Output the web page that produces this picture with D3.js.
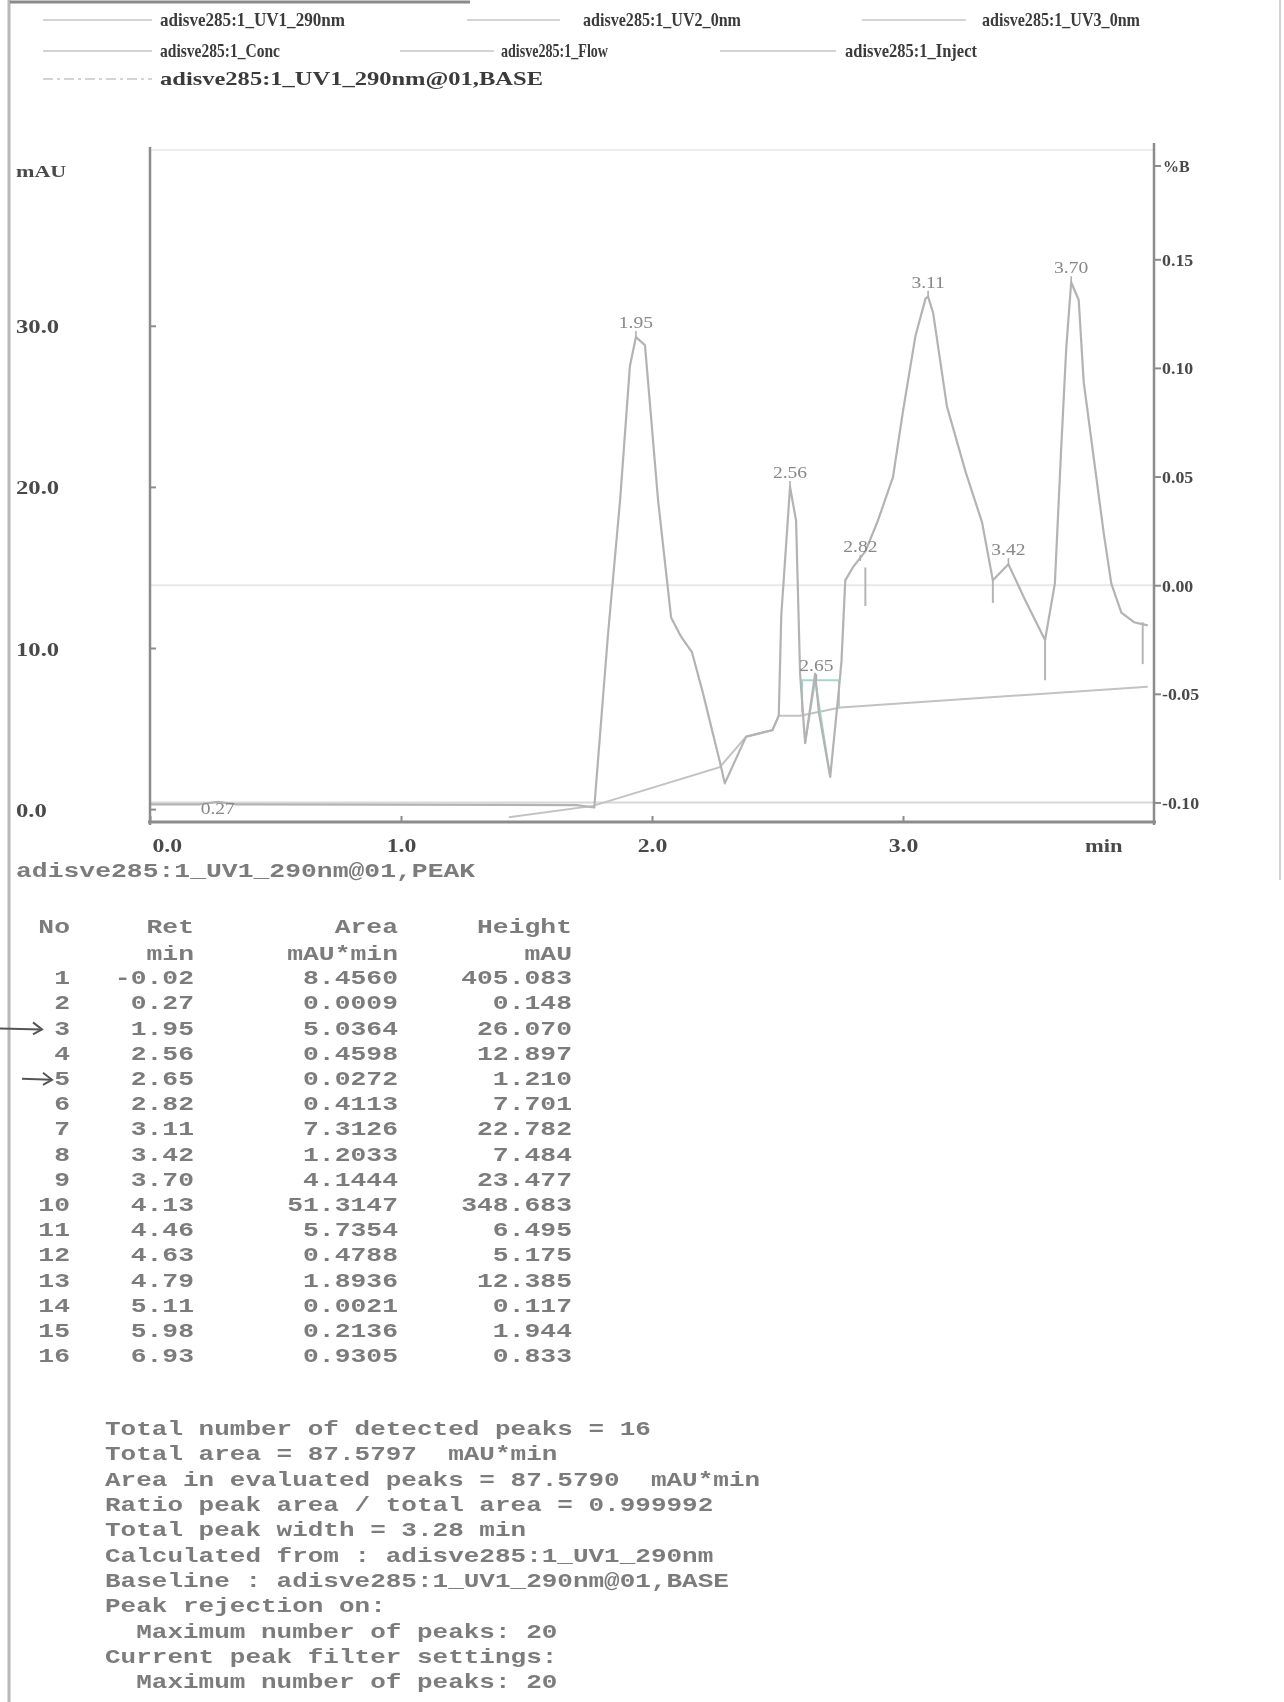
<!DOCTYPE html>
<html>
<head>
<meta charset="utf-8">
<script src="https://cdnjs.cloudflare.com/ajax/libs/d3/7.8.5/d3.min.js"></script>
<style>
    body { margin: 0; background: #fff; }
    svg { display: block; }
</style>
</head>
<body>
<div id="chart"></div>
<script>

// UV1 290nm trace (min, mAU)
var uvTime = [0.00, 0.20, 0.27, 0.34, 1.70, 1.77, 1.825, 1.873, 1.912, 1.936, 1.972, 2.024, 2.076, 2.116, 2.159, 2.203, 2.271, 2.29,
    2.375, 2.48, 2.505, 2.515, 2.55, 2.574, 2.59, 2.61, 2.65, 2.665, 2.71, 2.745, 2.755, 2.77, 2.80, 2.85, 2.90, 2.96, 3.00,
    3.05, 3.09, 3.10, 3.12, 3.175, 3.25, 3.315, 3.358, 3.42, 3.486, 3.54, 3.566, 3.605, 3.63, 3.65, 3.67, 3.70, 3.72, 3.765,
    3.80, 3.83, 3.87, 3.92, 3.975];
var uvSignal = [0.3, 0.3, 0.45, 0.3, 0.25, 0.1, 10.9, 19.2, 27.5, 29.3, 28.8, 19.2, 11.9, 10.7, 9.75, 7.2, 2.9, 1.6,
    4.5, 4.9, 5.8, 12.0, 20.0, 17.9, 8.4, 4.1, 8.4, 6.0, 2.0, 7.5, 9.2, 14.2, 15.0, 16.0, 17.9, 20.6, 24.7,
    29.4, 31.7, 31.8, 30.8, 25.0, 20.9, 17.8, 14.2, 15.2, 13.0, 11.3, 10.5, 14.0, 22.3, 28.5, 32.7, 31.6, 26.5, 21.2,
    17.1, 14.0, 12.2, 11.6, 11.4];

// UV1 290nm@01,BASE
var baseTime = [1.43, 1.765, 2.27, 2.375, 2.48, 2.505, 2.59, 2.75, 3.975];
var baseSignal = [-0.5, 0.2, 2.6, 4.5, 4.9, 5.8, 5.8, 6.3, 7.6];

// flat channels on the %B axis
var concTime = [0.0, 4.0];
var concValue = [0.00, 0.00];
var flowValue = [-0.10, -0.10];

// peak labels on the trace
var peakRt = ["0.27", "1.95", "2.56", "2.65", "2.82", "3.11", "3.42", "3.70"];
var peakTime = [0.27, 1.936, 2.55, 2.655, 2.83, 3.10, 3.42, 3.67];
var peakSignal = [0.45, 29.3, 20.0, 8.0, 15.4, 31.8, 15.2, 32.7];

// peak boundary drop marks
var dropTime = [2.85, 3.358, 3.566, 3.955];
var dropTop = [15.0, 14.2, 10.5, 11.6];
var dropBottom = [12.6, 12.8, 8.0, 9.0];

// axis ticks
var leftTicks = [0, 10, 20, 30];
var rightTicks = [-0.10, -0.05, 0.00, 0.05, 0.10, 0.15];
var timeTicks = [0, 1, 2, 3];

// legend
var legendRow1 = ["adisve285:1_UV1_290nm", "adisve285:1_UV2_0nm", "adisve285:1_UV3_0nm"];
var legendRow2 = ["adisve285:1_Conc", "adisve285:1_Flow", "adisve285:1_Inject"];
var legendRow3 = ["adisve285:1_UV1_290nm@01,BASE"];

// peak table
var tableTitle = "adisve285:1_UV1_290nm@01,PEAK";
var colHeads = ["No", "Ret", "Area", "Height"];
var colUnits = ["", "min", "mAU*min", "mAU"];
var peakNo = ["1", "2", "3", "4", "5", "6", "7", "8", "9", "10", "11", "12", "13", "14", "15", "16"];
var retTimes = ["-0.02", "0.27", "1.95", "2.56", "2.65", "2.82", "3.11", "3.42", "3.70", "4.13", "4.46", "4.63", "4.79", "5.11", "5.98", "6.93"];
var areas = ["8.4560", "0.0009", "5.0364", "0.4598", "0.0272", "0.4113", "7.3126", "1.2033", "4.1444", "51.3147", "5.7354", "0.4788", "1.8936", "0.0021", "0.2136", "0.9305"];
var heights = ["405.083", "0.148", "26.070", "12.897", "1.210", "7.701", "22.782", "7.484", "23.477", "348.683", "6.495", "5.175", "12.385", "0.117", "1.944", "0.833"];

var summaryLines = [
    "Total number of detected peaks = 16",
    "Total area = 87.5797  mAU*min",
    "Area in evaluated peaks = 87.5790  mAU*min",
    "Ratio peak area / total area = 0.999992",
    "Total peak width = 3.28 min",
    "Calculated from : adisve285:1_UV1_290nm",
    "Baseline : adisve285:1_UV1_290nm@01,BASE",
    "Peak rejection on:",
    "  Maximum number of peaks: 20",
    "Current peak filter settings:",
    "  Maximum number of peaks: 20"
];


var width = 1284;
var height = 1702;

var serif = "'Liberation Serif', 'DejaVu Serif', serif";
var mono = "'Liberation Mono', 'DejaVu Sans Mono', monospace";

var svg = d3.select("#chart")
    .append("svg")
    .attr("width", width)
    .attr("height", height);

svg.append("rect").attr("width", width).attr("height", height).attr("fill", "#fff");

// soft scan look
var defs = svg.append("defs");
defs.append("filter").attr("id", "soft")
    .append("feGaussianBlur").attr("stdDeviation", 0.55);

var g = svg.append("g").attr("filter", "url(#soft)");

// page edges of the scan
g.append("line").attr("x1", 9).attr("x2", 9).attr("y1", 0).attr("y2", height)
    .attr("stroke", "#b8b8b8").attr("stroke-width", 3);
g.append("line").attr("x1", 10).attr("x2", 470).attr("y1", 2).attr("y2", 2)
    .attr("stroke", "#8a8a8a").attr("stroke-width", 3);
g.append("line").attr("x1", 1280).attr("x2", 1280).attr("y1", 0).attr("y2", 880)
    .attr("stroke", "#d0d0d0").attr("stroke-width", 2);


// scales
var plotLeft = 150, plotRight = 1154, plotTop = 155, plotBottom = 822;

var x = d3.scaleLinear().domain([0, 4.0]).range([plotLeft, plotRight]);
var yL = d3.scaleLinear().domain([-0.8, 40.6]).range([plotBottom, plotTop]);
var yR = d3.scaleLinear().domain([-0.109, 0.198]).range([plotBottom, plotTop]);


// ---------- legend ----------
var legend = g.append("g").attr("class", "legend")
    .style("font-family", serif).style("font-size", "19px").style("font-weight", "bold").attr("fill", "#3a3a3a");

var legendCols = [
    { lx1: 43, lx2: 152, tx: 160 },
    { lx1: 467, lx2: 560, tx: 583 },
    { lx1: 862, lx2: 966, tx: 982 }
];
var legendCols2 = [
    { lx1: 43, lx2: 152, tx: 160 },
    { lx1: 400, lx2: 494, tx: 501 },
    { lx1: 720, lx2: 836, tx: 845 }
];
var legendWidths1 = [185, 158, 158];
var legendWidths2 = [120, 107, 132];
var legendWidths3 = [383];

function legendRow(labels, cols, widths, y, dash) {
    labels.forEach(function (lab, i) {
        legend.append("line")
            .attr("x1", cols[i].lx1).attr("x2", cols[i].lx2)
            .attr("y1", y).attr("y2", y)
            .attr("stroke", "#d4d4d4").attr("stroke-width", 2)
            .attr("stroke-dasharray", dash || null);
        legend.append("text")
            .attr("x", cols[i].tx).attr("y", y + 6)
            .attr("textLength", widths[i]).attr("lengthAdjust", "spacingAndGlyphs")
            .text(lab);
    });
}
legendRow(legendRow1, legendCols, legendWidths1, 20);
legendRow(legendRow2, legendCols2, legendWidths2, 51);
legendRow(legendRow3, legendCols, legendWidths3, 79, "10,4,3,4");


// ---------- plot frame ----------
g.append("line").attr("x1", plotLeft).attr("x2", plotRight).attr("y1", plotTop - 5).attr("y2", plotTop - 5)
    .attr("stroke", "#ececec").attr("stroke-width", 2);

// flat channels
var chanLine = d3.line().x(function (d) { return x(d[0]); }).y(function (d) { return yR(d[1]); });
g.append("path").datum(d3.zip(concTime, concValue))
    .attr("d", chanLine).attr("fill", "none").attr("stroke", "#e8e8e8").attr("stroke-width", 2);
g.append("path").datum(d3.zip(concTime, flowValue))
    .attr("d", chanLine).attr("fill", "none").attr("stroke", "#d8d8d8").attr("stroke-width", 2);

// baseline
var sigLine = d3.line().x(function (d) { return x(d[0]); }).y(function (d) { return yL(d[1]); });
g.append("path").datum(d3.zip(baseTime, baseSignal))
    .attr("d", sigLine).attr("fill", "none").attr("stroke", "#c2c2c2").attr("stroke-width", 2);

// teal marks of the small 2.65 peak
var tealA = [[2.598, 6.0], [2.598, 8.0], [2.745, 8.0], [2.745, 6.3]];
var tealB = [[2.61, 4.1], [2.65, 8.0], [2.71, 2.0]];
[tealA, tealB].forEach(function (seg) {
    g.append("path").datum(seg).attr("d", sigLine).attr("fill", "none")
        .attr("stroke", "#a6d5cc").attr("stroke-width", 2);
});

// UV trace
g.append("path").datum(d3.zip(uvTime, uvSignal))
    .attr("d", sigLine).attr("fill", "none")
    .attr("stroke", "#b3b3b3").attr("stroke-width", 2.2).attr("stroke-linejoin", "round");

// drop marks
dropTime.forEach(function (t, i) {
    g.append("line")
        .attr("x1", x(t)).attr("x2", x(t))
        .attr("y1", yL(dropTop[i])).attr("y2", yL(dropBottom[i]))
        .attr("stroke", "#b5b5b5").attr("stroke-width", 2);
});

// peak labels
var labels = g.append("g").style("font-family", serif).style("font-size", "17px").attr("fill", "#888");
peakRt.forEach(function (rt, i) {
    var px = x(peakTime[i]);
    var py = yL(peakSignal[i]);
    var ly = i == 0 ? py + 6 : py - 15;   // the 0.27 label sits on the base line
    labels.append("text")
        .attr("transform", "translate(" + px + "," + ly + ") scale(1.15,1)")
        .attr("text-anchor", "middle").attr("dy", "0.35em")
        .text(rt);
    if (i > 0) {
        labels.append("line")
            .attr("x1", px).attr("x2", px).attr("y1", py - 6).attr("y2", py)
            .attr("stroke", "#aaa").attr("stroke-width", 1.5);
    }
});


// ---------- axes ----------
var axisColour = "#8c8c8c";

var leftAxis = g.append("g").attr("transform", "translate(" + plotLeft + ",0)")
    .call(d3.axisLeft(yL).tickValues(leftTicks).tickFormat(function (d) { return d.toFixed(1); })
        .tickSize(-6).tickSizeOuter(0));
leftAxis.select(".domain").attr("stroke", axisColour).attr("stroke-width", 2.5)
    .attr("d", "M0," + (plotTop - 8) + "V" + (plotBottom + 3));
leftAxis.selectAll(".tick line").attr("stroke", axisColour).attr("stroke-width", 2);
leftAxis.selectAll(".tick text")
    .attr("x", null).attr("dy", null)
    .attr("text-anchor", "start")
    .attr("transform", "translate(-134,7) scale(1.3,1)")
    .style("font-family", serif).style("font-size", "19px").style("font-weight", "bold")
    .attr("fill", "#4a4a4a");

g.append("text").attr("transform", "translate(16,177) scale(1.3,1)")
    .style("font-family", serif).style("font-size", "17px").style("font-weight", "bold")
    .attr("fill", "#4a4a4a").text("mAU");

var rightAxis = g.append("g").attr("transform", "translate(" + plotRight + ",0)")
    .call(d3.axisRight(yR).tickValues(rightTicks).tickFormat(function (d) { return d.toFixed(2); })
        .tickSize(7).tickSizeOuter(0));
rightAxis.select(".domain").attr("stroke", axisColour).attr("stroke-width", 2.5)
    .attr("d", "M0," + (plotTop - 12) + "V" + (plotBottom + 3));
rightAxis.selectAll(".tick line").attr("stroke", axisColour).attr("stroke-width", 2);
rightAxis.selectAll(".tick text")
    .attr("x", null).attr("dy", null)
    .attr("transform", "translate(8,6) scale(1.05,1)")
    .style("font-family", serif).style("font-size", "17px").style("font-weight", "bold")
    .attr("fill", "#4a4a4a");

g.append("line").attr("x1", plotRight).attr("x2", plotRight + 7).attr("y1", 166).attr("y2", 166)
    .attr("stroke", axisColour).attr("stroke-width", 2);
g.append("text").attr("x", plotRight + 9).attr("y", 172)
    .style("font-family", serif).style("font-size", "16px").style("font-weight", "bold")
    .attr("fill", "#4a4a4a").text("%B");

var bottomAxis = g.append("g").attr("transform", "translate(0," + plotBottom + ")")
    .call(d3.axisBottom(x).tickValues(timeTicks).tickFormat(function (d) { return d.toFixed(1); })
        .tickSize(-6).tickSizeOuter(0));
bottomAxis.select(".domain").attr("stroke", axisColour).attr("stroke-width", 3)
    .attr("d", "M" + (plotLeft - 2) + ",0H" + (plotRight + 2));
bottomAxis.selectAll(".tick line").attr("stroke", axisColour).attr("stroke-width", 2);
bottomAxis.selectAll(".tick text")
    .attr("y", null).attr("dy", null)
    .attr("text-anchor", function (d) { return d == 0 ? "start" : "middle"; })
    .attr("transform", function (d) { return "translate(" + (d == 0 ? 2 : 0) + ",30) scale(1.25,1)"; })
    .style("font-family", serif).style("font-size", "19px").style("font-weight", "bold")
    .attr("fill", "#4a4a4a");

g.append("text").attr("transform", "translate(" + x(3.8) + "," + (plotBottom + 30) + ") scale(1.25,1)")
    .attr("text-anchor", "middle")
    .style("font-family", serif).style("font-size", "18px").style("font-weight", "bold")
    .attr("fill", "#4a4a4a").text("min");


// ---------- peak table ----------
// the scan is stretched sideways, so the mono text gets a horizontal scale
var stretch = 1.32;
var tbl = g.append("g").attr("class", "table")
    .style("font-family", mono).style("font-size", "20px").style("font-weight", "bold")
    .attr("fill", "#7c7c7c");

tbl.append("text").attr("transform", "translate(16,872) scale(" + stretch + ",1)")
    .attr("dominant-baseline", "central").text(tableTitle);

var colRight = [70, 194, 398, 572];
var headY = 928, unitY = 955, firstRowY = 979, rowStep = 25.2;

function cell(txt, col, y) {
    tbl.append("text")
        .attr("transform", "translate(" + colRight[col] + "," + y + ") scale(" + stretch + ",1)")
        .attr("text-anchor", "end")
        .attr("dominant-baseline", "central")
        .text(txt);
}

colHeads.forEach(function (h, c) { cell(h, c, headY); });
colUnits.forEach(function (u, c) { if (u) cell(u, c, unitY); });

peakNo.forEach(function (n, i) {
    var ry = firstRowY + i * rowStep;
    cell(n, 0, ry);
    cell(retTimes[i], 1, ry);
    cell(areas[i], 2, ry);
    cell(heights[i], 3, ry);
});

// hand-drawn arrows in the margin at rows 3 and 5
var pen = g.append("g").attr("stroke", "#555").attr("stroke-width", 2).attr("fill", "none");
[2, 4].forEach(function (r, k) {
    var ry = firstRowY + r * rowStep;
    var x0 = k == 0 ? 0 : 22;
    var x1 = k == 0 ? 42 : 52;
    pen.append("path").attr("d", "M" + x0 + "," + (ry - 1) + "L" + x1 + "," + ry);
    pen.append("path").attr("d", "M" + (x1 - 9) + "," + (ry - 7) + "L" + x1 + "," + ry + "L" + (x1 - 9) + "," + (ry + 5));
});

// summary lines
var sum = g.append("g")
    .style("font-family", mono).style("font-size", "20px").style("font-weight", "bold")
    .attr("fill", "#7c7c7c");
summaryLines.forEach(function (s, i) {
    sum.append("text")
        .attr("transform", "translate(105," + (1430 + i * 25.3) + ") scale(1.3,1)")
        .attr("dominant-baseline", "central")
        .attr("xml:space", "preserve")
        .style("white-space", "pre")
        .text(s);
});

</script>
</body>
</html>
